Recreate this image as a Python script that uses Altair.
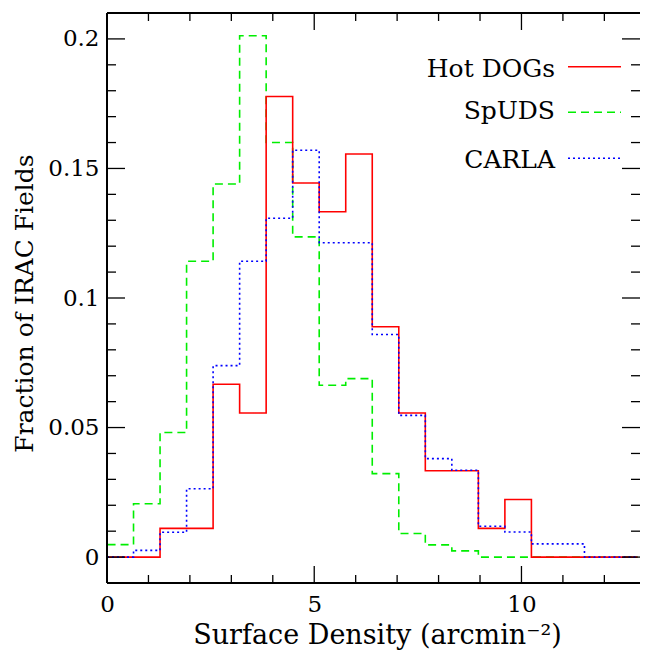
import altair as alt
import pandas as pd

# bin edges (arcmin^-2)
edges = [0.0, 0.64, 1.28, 1.92, 2.56, 3.2, 3.84, 4.48, 5.12, 5.76, 6.4,
         7.04, 7.68, 8.32, 8.96, 9.6, 10.24, 10.88, 11.52, 12.16, 12.8]

series_names = ["Hot DOGs", "SpUDS", "CARLA"]
hot_dogs = [0.0, 0.0, 0.0111, 0.0111, 0.0667, 0.0556, 0.1778, 0.1444, 0.1333, 0.1556,
            0.0889, 0.0556, 0.0333, 0.0333, 0.0111, 0.0222, 0.0, 0.0, 0.0, 0.0]
spuds = [0.0048, 0.0206, 0.0481, 0.1142, 0.1440, 0.2012, 0.1600, 0.1236, 0.0663, 0.0689,
         0.0322, 0.0091, 0.0047, 0.0024, 0.0, 0.0, 0.0, 0.0, 0.0, 0.0]
carla = [0.0, 0.0026, 0.0096, 0.0264, 0.0739, 0.1142, 0.1308, 0.1570, 0.1213, 0.1213,
         0.0859, 0.0547, 0.0380, 0.0335, 0.0119, 0.0097, 0.0051, 0.0051, 0.0, 0.0]

x_major = [0, 5, 10]
x_minor = [1, 2, 3, 4, 6, 7, 8, 9, 11, 12]
y_major = [0, 0.05, 0.1, 0.15, 0.2]
y_minor = [0.01, 0.02, 0.03, 0.04, 0.06, 0.07, 0.08, 0.09, 0.11, 0.12, 0.13, 0.14,
           0.16, 0.17, 0.18, 0.19, 0.21]

W, H = 533, 570
FONT = "DejaVu Serif"

xscale = alt.Scale(domain=[0, 12.86], nice=False, zero=False)
yscale = alt.Scale(domain=[-0.01, 0.21], nice=False, zero=False)

xaxis = alt.Axis(values=x_major, format="d", ticks=False, tickSize=0, domain=False, grid=False,
                 labelFont=FONT, labelFontSize=23, labelPadding=10, labelColor="black",
                 labelFlush=False,
                 title="Surface Density (arcmin\u207b\u00b2)", titleFont=FONT, titleFontSize=27,
                 titleFontWeight="normal", titleColor="black", titleX=270, titleY=60,
                 titleBaseline="alphabetic", titleAlign="center")
yaxis = alt.Axis(values=y_major, format="~g", ticks=False, tickSize=0, domain=False, grid=False,
                 labelFont=FONT, labelFontSize=23, labelPadding=8, labelColor="black",
                 labelFlush=False,
                 title="Fraction of IRAC Fields", titleFont=FONT, titleFontSize=25,
                 titleFontWeight="normal", titleColor="black", titleAngle=-90, titleX=-75,
                 titleY=290, titleBaseline="alphabetic", titleAlign="center")


def steps(vals):
    xs = [edges[0]] + edges[:-1] + [edges[-1]]
    ys = [0.0] + list(vals) + [0.0]
    return pd.DataFrame({"x": xs, "y": ys, "i": list(range(len(xs)))})


styles = {
    "Hot DOGs": ("#ff0000", [1, 0], hot_dogs),
    "SpUDS": ("#00ee00", [8, 5], spuds),
    "CARLA": ("#0000ff", [2, 3], carla),
}

layers = []
first = True
for name in ["SpUDS", "Hot DOGs", "CARLA"]:
    color, dash, vals = styles[name]
    if first:
        xe = alt.X("x:Q", scale=xscale, axis=xaxis)
        ye = alt.Y("y:Q", scale=yscale, axis=yaxis)
    else:
        xe = alt.X("x:Q", scale=xscale)
        ye = alt.Y("y:Q", scale=yscale)
    layers.append(
        alt.Chart(steps(vals)).mark_line(interpolate="step-after", color=color,
                                         strokeWidth=1.6, strokeDash=dash).encode(
            x=xe, y=ye, order="i:Q")
    )
    first = False


# inward ticks on all four sides
def yticks(vals, length):
    df = pd.DataFrame({"y": vals})
    left = alt.Chart(df).mark_rule(color="black", strokeWidth=1.3).encode(
        y=alt.Y("y:Q", scale=yscale), x=alt.value(0), x2=alt.value(length))
    right = alt.Chart(df).mark_rule(color="black", strokeWidth=1.3).encode(
        y=alt.Y("y:Q", scale=yscale), x=alt.value(W - length), x2=alt.value(W))
    return [left, right]


def xticks(vals, length):
    df = pd.DataFrame({"x": vals})
    bottom = alt.Chart(df).mark_rule(color="black", strokeWidth=1.3).encode(
        x=alt.X("x:Q", scale=xscale), y=alt.value(H), y2=alt.value(H - length))
    top = alt.Chart(df).mark_rule(color="black", strokeWidth=1.3).encode(
        x=alt.X("x:Q", scale=xscale), y=alt.value(0), y2=alt.value(length))
    return [bottom, top]


layers += yticks(y_major, 18) + yticks(y_minor, 9) + xticks(x_major, 17) + xticks(x_minor, 8)

# frame: left, top and bottom (right side runs off the page in the original)
frame_df = pd.DataFrame({"k": [0]})
layers.append(alt.Chart(frame_df).mark_rule(color="black", strokeWidth=2).encode(
    x=alt.value(0), y=alt.value(0), y2=alt.value(H)))
layers.append(alt.Chart(frame_df).mark_rule(color="black", strokeWidth=2).encode(
    x=alt.value(0), x2=alt.value(W), y=alt.value(0)))
layers.append(alt.Chart(frame_df).mark_rule(color="black", strokeWidth=2).encode(
    x=alt.value(0), x2=alt.value(W), y=alt.value(H)))

# legend
legend_rows = [("Hot DOGs", 53.7, 63.7), ("SpUDS", 99.3, 106.3), ("CARLA", 145.3, 155.3)]
for name, yl, yt in legend_rows:
    color, dash, _ = styles[name]
    df = pd.DataFrame({"label": [name]})
    layers.append(alt.Chart(df).mark_rule(color=color, strokeWidth=1.6, strokeDash=dash).encode(
        x=alt.value(461), x2=alt.value(514), y=alt.value(yl)))
    layers.append(alt.Chart(df).mark_text(align="right", baseline="alphabetic", font=FONT,
                                          fontSize=25, color="black").encode(
        x=alt.value(448), y=alt.value(yt), text="label:N"))

chart = alt.layer(*layers).properties(
    width=W, height=H,
    padding={"left": 99, "top": 5, "right": 0, "bottom": 67},
    autosize=alt.AutoSizeParams(type="none"),
    background="white",
).configure_view(stroke=None)

chart.save("out.html", embed_options={"renderer": "svg", "actions": False})
